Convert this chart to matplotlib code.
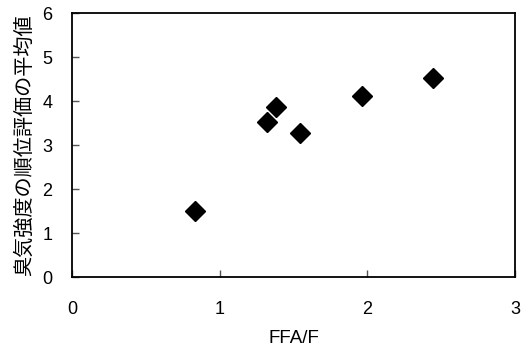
import matplotlib
matplotlib.use("Agg")
import matplotlib.pyplot as plt

ffa_f = [0.835, 1.32, 1.383, 1.544, 1.966, 2.444]
odor_rank_mean = [1.50, 3.52, 3.87, 3.27, 4.12, 4.52]
x_ticks = [0, 1, 2, 3]
y_ticks = [0, 1, 2, 3, 4, 5, 6]

plt.rcParams['font.family'] = ['Liberation Sans', 'Noto Sans CJK JP', 'DejaVu Sans']

fig = plt.figure(figsize=(5.28, 3.46), dpi=100)
ax = fig.add_axes([72/528, 1-277/346, (515-72)/528, (277-13)/346])
ax.plot(ffa_f, odor_rank_mean, linestyle='none', marker='D', color='black', markersize=10.5)
ax.set_xlim(0, 3)
ax.set_ylim(0, 6)
ax.set_xticks(x_ticks)
ax.set_yticks(y_ticks)
ax.tick_params(direction='in', length=5, width=1, color='#555555', labelsize=13)
ax.tick_params(axis='x', pad=17)
ax.tick_params(axis='y', pad=14)
for s in ax.spines.values():
    s.set_linewidth(1.3)
ax.set_xlabel('FFA/F', fontsize=13.5, labelpad=9)
ax.set_ylabel('臭気強度の順位評価の平均値', fontsize=14.5, family=['Noto Sans CJK JP', 'DejaVu Sans'], labelpad=5)
fig.savefig('out.png', dpi=100)
